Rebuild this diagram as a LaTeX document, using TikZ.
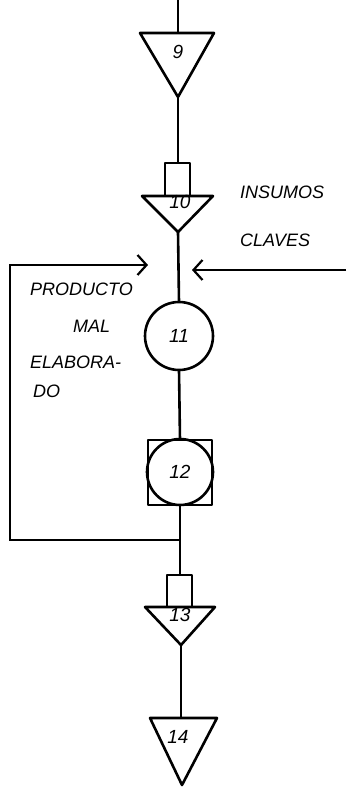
\documentclass[tikz,border=0pt]{standalone}
\usepackage{fontspec}
\setsansfont{Liberation Sans}
\usetikzlibrary{arrows.meta}
\begin{document}
\begin{tikzpicture}[x=1pt,y=-1pt,
  sym/.style={line width=2.6pt, line join=round},
  conn/.style={line width=2.6pt},
  barb/.style={-{Straight Barb[length=9pt,width=20pt,line width=2.2pt]}},
  lbl/.style={font=\sffamily\itshape\fontsize{19}{21}\selectfont, inner sep=0pt},
  txt/.style={font=\sffamily\itshape\fontsize{18}{20}\selectfont, inner sep=0pt, anchor=west}]
\useasboundingbox (0,0) rectangle (346,787);
% coordinates
\coordinate (start) at (178,0);
\coordinate (t9top) at (178,33);
\coordinate (t9apex) at (178,97);
\coordinate (r10top) at (178,163);
\coordinate (t10apex) at (178,232);
\coordinate (c11) at (179,336);
\coordinate (s12) at (180,472);
\coordinate (r13top) at (180,575);
\coordinate (t13apex) at (181,645);
\coordinate (t14top) at (181,718);
\coordinate (j) at (180,540);
\coordinate (fbA) at (10,540);
\coordinate (fbB) at (10,265);
\coordinate (fbtip) at (148,265);
\coordinate (instart) at (346,270);
\coordinate (intip) at (192,270);
% symbols
\draw[sym] (140,33) -- (214,33) -- (t9apex) -- cycle;
\node[lbl] (n9) at (178,52) {9};
\draw[sym] (165,196) -- (165,163) -- (190,163) -- (190,196);
\draw[sym] (142,196) -- (213,196) -- (t10apex) -- cycle;
\node[lbl] (n10) at (180,202) {10};
\draw[sym] (c11) circle (34);
\node[lbl] (n11) at (c11) {11};
\draw[sym] (148,440) rectangle (212,505);
\draw[sym] (s12) circle (33);
\node[lbl] (n12) at (s12) {12};
\draw[sym] (167,607) -- (167,575) -- (192,575) -- (192,607);
\draw[sym] (145,607) -- (215,607) -- (t13apex) -- cycle;
\node[lbl] (n13) at (180,615) {13};
\draw[sym] (150,718) -- (217,718) -- (182,785) -- cycle;
\node[lbl] (n14) at (178,737) {14};
% connectors
\draw[conn] (start) -- (t9top);
\draw[conn] (t9apex) -- (r10top);
\draw[conn] (t10apex) -- (179,302);
\draw[conn] (179,370) -- (180,440);
\draw[conn] (180,505) -- (r13top);
\draw[conn] (t13apex) -- (t14top);
\draw[conn, barb] (j) -- (fbA) -- (fbB) -- (fbtip);
\draw[conn, barb] (instart) -- (intip);
% texts
\node[txt] (ins) at (240,192) {INSUMOS};
\node[txt] (cla) at (240,240) {CLAVES};
\node[txt] (p1) at (30,289) {PRODUCTO};
\node[txt] (p2) at (73,326) {MAL};
\node[txt] (p3) at (30,362) {ELABORA-};
\node[txt] (p4) at (33,391) {DO};
\end{tikzpicture}
\end{document}
